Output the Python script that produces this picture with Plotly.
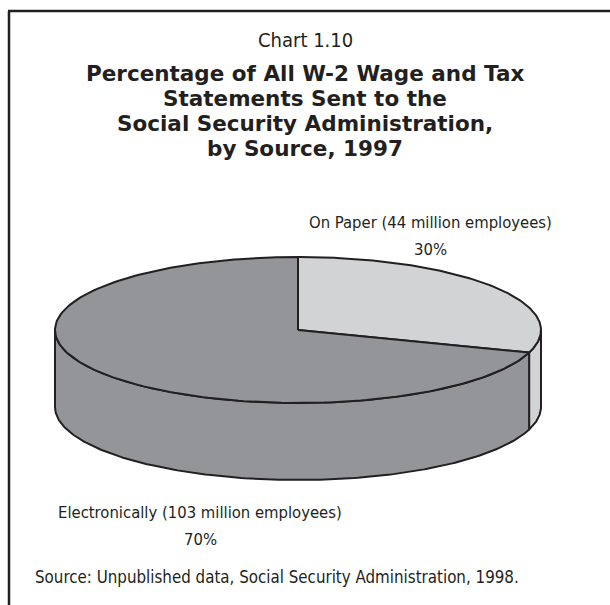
import numpy as np
import plotly.graph_objects as go

# W-2 statements received by SSA, 1997, by filing method
sources = ["On Paper", "Electronically"]
employees_millions = [44, 103]
shares_pct = [30, 70]
slice_colors = ["#d1d3d4", "#939598"]

# Pie geometry (pixel space, y grows downward)
CX, CY = 298, 330
RX, RY = 243, 73
DEPTH = 77
OUTLINE = "#231f20"

W, H = 610, 605


def rim(theta_deg, drop=0.0):
    t = np.radians(theta_deg)
    return CX + RX * np.sin(t), CY - RY * np.cos(t) + drop


def arc(t0, t1, drop=0.0, n=200):
    th = np.linspace(t0, t1, n)
    return rim(th, drop)


# Slice start/end angles, clockwise from 12 o'clock
ends = np.cumsum([s / sum(shares_pct) * 360 for s in shares_pct])
starts = np.concatenate([[0], ends[:-1]])

fig = go.Figure()

# Side walls: only the front half of the cylinder (90..270 deg) is visible
for s, e, col in zip(starts, ends, slice_colors):
    a0, a1 = max(s, 90), min(e, 270)
    if a1 <= a0:
        continue
    tx, ty = arc(a0, a1)
    bx, by = arc(a1, a0, DEPTH)
    xs = np.concatenate([tx, bx, [tx[0]]])
    ys = np.concatenate([ty, by, [ty[0]]])
    fig.add_trace(go.Scatter(x=xs, y=ys, mode="lines", fill="toself",
                             fillcolor=col, line=dict(color=OUTLINE, width=2),
                             hoverinfo="skip", showlegend=False))

# Top faces
for s, e, col in zip(starts, ends, slice_colors):
    ax_, ay_ = arc(s, e)
    xs = np.concatenate([[CX], ax_, [CX]])
    ys = np.concatenate([[CY], ay_, [CY]])
    fig.add_trace(go.Scatter(x=xs, y=ys, mode="lines", fill="toself",
                             fillcolor=col, line=dict(color=OUTLINE, width=2),
                             hoverinfo="skip", showlegend=False))

NARROW = "DejaVu Sans Condensed, Liberation Sans Narrow, Liberation Sans, sans-serif"
BOLD = "DejaVu Sans, sans-serif"
TXT = "#231f20"

annotations = [
    dict(x=305, y=40, text="Chart 1.10",
         font=dict(family=NARROW, size=20, color=TXT)),
]
title_lines = ["Percentage of All W-2 Wage and Tax",
               "Statements Sent to the",
               "Social Security Administration,",
               "by Source, 1997"]
for i, line in enumerate(title_lines):
    annotations.append(dict(x=305, y=73 + i * 25, text=f"<b>{line}</b>",
                            font=dict(family=BOLD, size=21.5, color=TXT)))

# Slice labels: description line, then the share underneath
label_pos = [(430, 222), (200, 512)]
for name, emp, pct, (lx, ly) in zip(sources, employees_millions, shares_pct, label_pos):
    annotations.append(dict(x=lx, y=ly, text=f"{name} ({emp} million employees)",
                            font=dict(family=NARROW, size=16.5, color=TXT)))
    annotations.append(dict(x=lx, y=ly + 27, text=f"{pct}%",
                            font=dict(family=NARROW, size=16.5, color=TXT)))

annotations.append(dict(x=33, y=577, xanchor="left",
                        text="Source: Unpublished data, Social Security Administration, 1998.",
                        font=dict(family=NARROW, size=16.8, color=TXT)))

for a in annotations:
    a.setdefault("xanchor", "center")
    a.update(xref="x", yref="y", yanchor="middle", showarrow=False, align="center")

fig.update_layout(
    width=W, height=H,
    margin=dict(l=0, r=0, t=0, b=0),
    paper_bgcolor="white", plot_bgcolor="white",
    xaxis=dict(range=[0, W], visible=False, fixedrange=True),
    yaxis=dict(range=[H, 0], visible=False, fixedrange=True),
    annotations=annotations,
    shapes=[
        dict(type="line", xref="x", yref="y", x0=9, y0=H + 5, x1=9, y1=11,
             line=dict(color=OUTLINE, width=2.5)),
        dict(type="line", xref="x", yref="y", x0=8, y0=11, x1=W + 5, y1=11,
             line=dict(color=OUTLINE, width=2.5)),
    ],
    hovermode=False,
)

fig.write_html("out.html", config=dict(displayModeBar=False))
